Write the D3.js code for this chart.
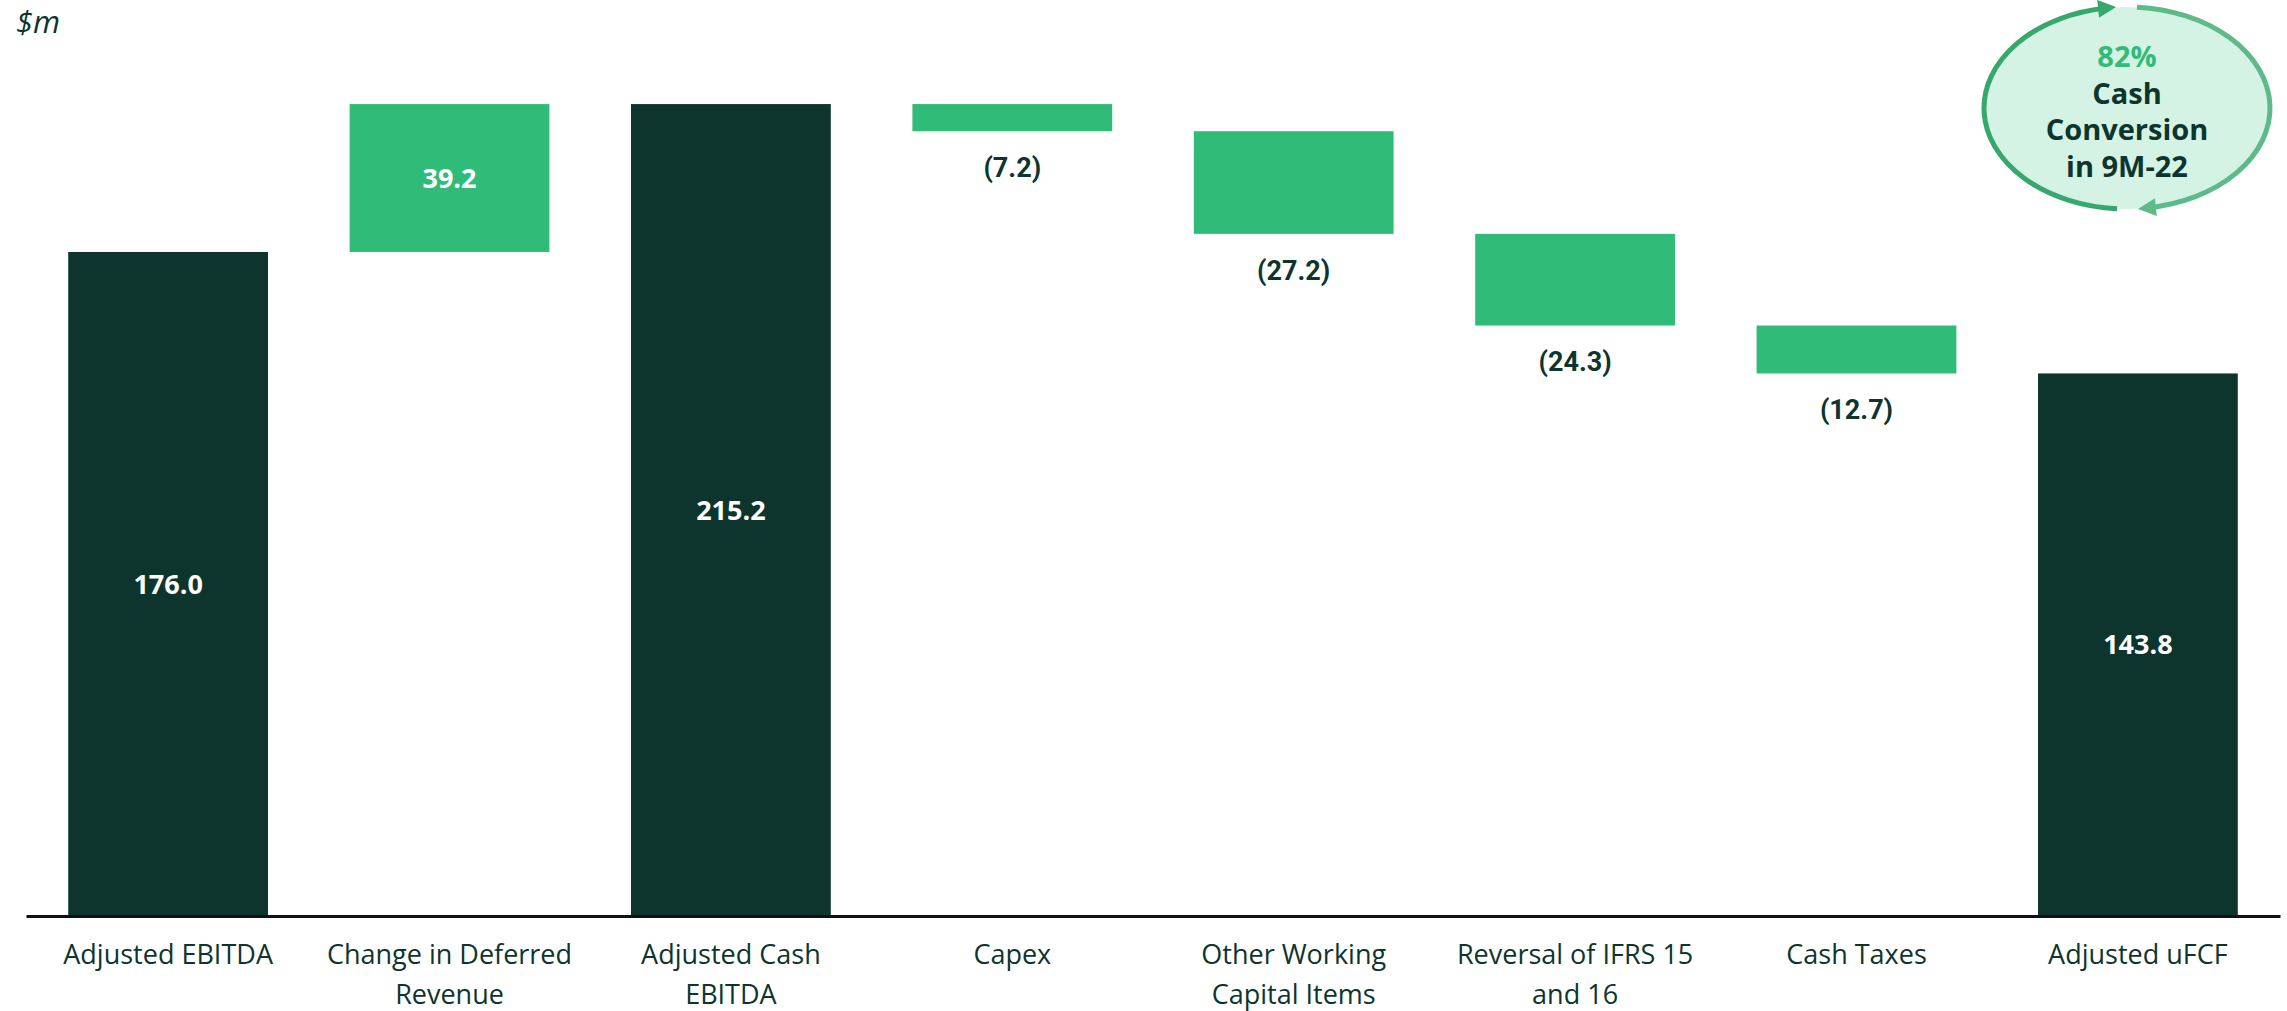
<!DOCTYPE html>
<html>
<head>
<meta charset="utf-8">
<script src="https://cdn.jsdelivr.net/npm/d3@7"></script>
<style>
  html, body { margin: 0; padding: 0; background: #fff; }
  svg { display: block; }
</style>
</head>
<body>
<div id="chart"></div>
<script>
// waterfall data, $m
const categories = [
    "Adjusted EBITDA",
    "Change in Deferred\nRevenue",
    "Adjusted Cash\nEBITDA",
    "Capex",
    "Other Working\nCapital Items",
    "Reversal of IFRS 15\nand 16",
    "Cash Taxes",
    "Adjusted uFCF"
];
const values = [176.0, 39.2, 215.2, -7.2, -27.2, -24.3, -12.7, 143.8];
const kinds = ["total", "delta", "total", "delta", "delta", "delta", "delta", "total"];
const unitLabel = "$m";
const badgeLines = ["82%", "Cash", "Conversion", "in 9M-22"];

const W = 2287, H = 1011;
const dark = "#0d352d";
const green = "#31bb78";

const svg = d3.select("#chart").append("svg")
    .attr("width", W)
    .attr("height", H);

// running totals for the waterfall
let run = 0;
const bars = values.map((v, i) => {
    let y0, y1;
    if (kinds[i] === "total") {
        y0 = 0; y1 = v; run = v;
    } else {
        y0 = run; y1 = run + v; run += v;
    }
    return { name: categories[i], value: v, kind: kinds[i], y0, y1 };
});

const x = d3.scaleBand()
    .domain(categories)
    .range([26, 2280])
    .paddingInner(0.29)
    .paddingOuter(0.15);

const y = d3.scaleLinear()
    .domain([0, 240])
    .range([916, 10.5]);

// bars
svg.selectAll(".bar")
    .data(bars)
    .enter()
    .append("rect")
    .attr("class", "bar")
    .attr("x", d => x(d.name))
    .attr("y", d => y(Math.max(d.y0, d.y1)))
    .attr("width", x.bandwidth())
    .attr("height", d => Math.abs(y(d.y0) - y(d.y1)))
    .attr("fill", d => d.kind === "total" ? dark : green);

// value labels
svg.selectAll(".val")
    .data(bars)
    .enter()
    .append("text")
    .attr("class", "val")
    .attr("x", d => x(d.name) + x.bandwidth() / 2)
    .attr("y", d => d.value < 0
        ? y(Math.min(d.y0, d.y1)) + 36
        : (y(d.y0) + y(d.y1)) / 2)
    .attr("dy", "0.36em")
    .attr("text-anchor", "middle")
    .style("font-family", d => d.value < 0 ? "Roboto, sans-serif" : "'Open Sans', sans-serif")
    .style("font-weight", "700")
    .style("font-size", "27px")
    .attr("fill", d => d.value < 0 ? dark : "#fff")
    .text(d => d.value < 0 ? `(${Math.abs(d.value).toFixed(1)})` : d.value.toFixed(1));

// x axis
const axis = svg.append("g")
    .attr("transform", `translate(0,${y(0)})`)
    .call(d3.axisBottom(x).tickSize(0).tickSizeOuter(0));

axis.select(".domain")
    .attr("stroke", "#111")
    .attr("stroke-width", 3);

axis.selectAll(".tick text").remove();

axis.selectAll(".tick")
    .append("text")
    .attr("text-anchor", "middle")
    .attr("fill", dark)
    .style("font-family", "'Open Sans', sans-serif")
    .style("font-size", "27px")
    .each(function(d) {
        const lines = d.split("\n");
        const t = d3.select(this);
        lines.forEach((line, i) => {
            t.append("tspan")
                .attr("x", 0)
                .attr("y", 48 + i * 40)
                .text(line);
        });
    });

// unit label
svg.append("text")
    .attr("x", 16)
    .attr("y", 33)
    .attr("fill", dark)
    .style("font-family", "'Open Sans', sans-serif")
    .style("font-style", "italic")
    .style("font-size", "31px")
    .text(unitLabel);

// cash conversion badge
const cx = 2127, cy = 108, rx = 143, ry = 101;
const badge = svg.append("g");

const defs = svg.append("defs");
[["arrowDark", "#36a86c"], ["arrowLight", "#5fba8a"]].forEach(([id, col]) => {
    defs.append("marker")
        .attr("id", id)
        .attr("viewBox", "0 0 10 10")
        .attr("refX", 5)
        .attr("refY", 5)
        .attr("markerWidth", 20)
        .attr("markerHeight", 18)
        .attr("markerUnits", "userSpaceOnUse")
        .attr("orient", "auto")
        .append("path")
        .attr("d", "M0,0 L10,5 L0,10 Z")
        .attr("fill", col);
});

badge.append("ellipse")
    .attr("cx", cx)
    .attr("cy", cy)
    .attr("rx", rx)
    .attr("ry", ry)
    .attr("fill", "#d5f3e4");

const pt = a => {
    const r = a * Math.PI / 180;
    return [cx + rx * Math.cos(r), cy + ry * Math.sin(r)];
};
const arcPath = (a1, a2) => {
    const p1 = pt(a1), p2 = pt(a2);
    return `M${p1[0]},${p1[1]} A${rx},${ry} 0 0 1 ${p2[0]},${p2[1]}`;
};

badge.append("path")
    .attr("d", arcPath(94, 262))
    .attr("fill", "none")
    .attr("stroke", "#36a86c")
    .attr("stroke-width", 5)
    .attr("marker-end", "url(#arrowDark)");

badge.append("path")
    .attr("d", arcPath(-86, 82))
    .attr("fill", "none")
    .attr("stroke", "#5fba8a")
    .attr("stroke-width", 5)
    .attr("marker-end", "url(#arrowLight)");

badge.selectAll(".badge-line")
    .data(badgeLines)
    .enter()
    .append("text")
    .attr("class", "badge-line")
    .attr("x", cx)
    .attr("y", (d, i) => 67 + i * 36.5)
    .attr("text-anchor", "middle")
    .attr("fill", (d, i) => i === 0 ? green : dark)
    .style("font-family", "'Open Sans', sans-serif")
    .style("font-weight", "700")
    .style("font-size", "29px")
    .text(d => d);
</script>
</body>
</html>
